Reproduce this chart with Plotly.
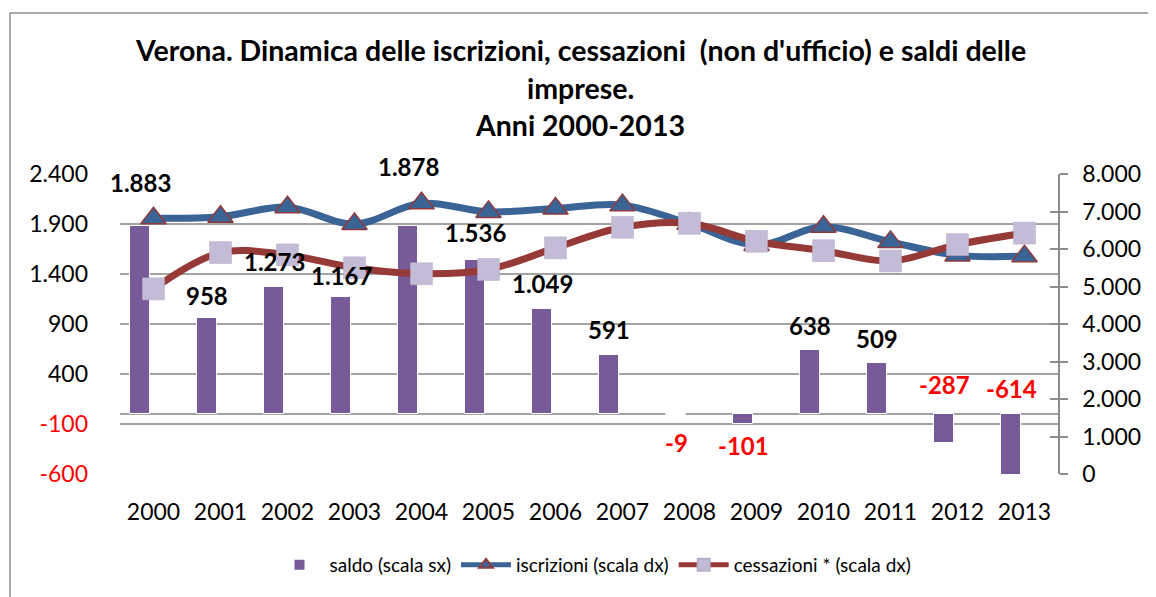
import plotly.graph_objects as go

# ---- data ----
years = ["2000", "2001", "2002", "2003", "2004", "2005", "2006",
         "2007", "2008", "2009", "2010", "2011", "2012", "2013"]
saldo = [1883, 958, 1273, 1167, 1878, 1536, 1049, 591, -9, -101, 638, 509, -287, -614]
iscrizioni = [6820, 6862, 7115, 6667, 7218, 6990, 7080, 7170, 6675, 6105, 6592, 6190, 5830, 5810]
cessazioni = [4937, 5904, 5842, 5500, 5340, 5454, 6031, 6579, 6684, 6206, 5954, 5681, 6117, 6424]
left_ticks = [-600, -100, 400, 900, 1400, 1900, 2400]
right_ticks = [0, 1000, 2000, 3000, 4000, 5000, 6000, 7000, 8000]

title_lines = ["Verona. Dinamica delle iscrizioni, cessazioni  (non d'ufficio) e saldi delle",
               "imprese.", "Anni 2000-2013"]

# ---- style ----
FONT = "Lato, 'Open Sans', sans-serif"
label_shift = [43, 23, 25, 22, 60, 28, 26, 25, -28, -21, 25, 25, 58, 87]
GRID = "#A3A3A3"
Y_RANGE = [-600, 2400]
PAGE_OFF = 8  # page body margin of the html output

# plot area in page pixels
PL, PR, PT, PB = 120, 1058, 174, 474
W, H = 1156, 597


def it(v):
    s = f"{abs(v):,}".replace(",", ".")
    return ("-" if v < 0 else "") + s


def tick_text(v):
    t = it(v)
    return f"<span style='color:#FF0000'>{t}</span>" if v < 0 else t


def px_x(p):
    return (p - PL) / (PR - PL)


def px_y(p):
    return (PB - p) / (PB - PT)


fig = go.Figure()

fig.add_trace(go.Bar(
    x=years, y=saldo, name="saldo (scala sx)", yaxis="y",
    width=0.3, offset=-0.35,
    marker=dict(color="#775B98", line=dict(color="#FFFFFF", width=1)),
    hoverinfo="skip",
))

fig.add_trace(go.Scatter(
    x=years, y=iscrizioni, name="iscrizioni (scala dx)", yaxis="y2",
    mode="lines+markers", line=dict(color="#3A6396", width=7, shape="spline", smoothing=1),
    marker=dict(symbol="triangle-up", size=22, color="#3A6396",
                line=dict(color="#8E3B3B", width=1.5)),
    hoverinfo="skip",
))

fig.add_trace(go.Scatter(
    x=years, y=cessazioni, name="cessazioni * (scala dx)", yaxis="y2",
    mode="lines+markers", line=dict(color="#963A38", width=7, shape="spline", smoothing=1),
    marker=dict(symbol="square", size=22, color="#C4BBD6",
                line=dict(color="#B8AECB", width=0.5)),
    hoverinfo="skip",
))

# helper trace for the inner half of the right-axis tick marks
fig.add_trace(go.Scatter(
    x=years, y=cessazioni, yaxis="y3", mode="lines", line=dict(width=0),
    showlegend=False, hoverinfo="skip", opacity=0,
))

annotations = []
for i, (v, sh) in enumerate(zip(saldo, label_shift)):
    annotations.append(dict(
        x=i, xref="x", y=(v - Y_RANGE[0]) / (Y_RANGE[1] - Y_RANGE[0]), yref="paper",
        xshift=-13.4, yshift=sh,
        text=f"<b>{it(v)}</b>", showarrow=False, yanchor="middle",
        font=dict(family=FONT, size=24, color="#FF0000" if v < 0 else "#000000"),
    ))

title_y = [50, 88, 125]
for line, py in zip(title_lines, title_y):
    annotations.append(dict(
        x=px_x(580), y=px_y(py), xref="paper", yref="paper",
        text=f"<b>{line}</b>", showarrow=False, xanchor="center", yanchor="middle",
        font=dict(family=FONT, size=28.5, color="#000000"),
    ))

fig.update_layout(
    width=W, height=H,
    margin=dict(l=PL - PAGE_OFF, r=W - PR + PAGE_OFF, t=PT - PAGE_OFF,
                b=H - PB + PAGE_OFF, autoexpand=False),
    paper_bgcolor="#FFFFFF", plot_bgcolor="#FFFFFF",
    font=dict(family=FONT, size=23, color="#000000"),
    showlegend=True,
    legend=dict(orientation="h", x=px_x(593), xanchor="center", y=px_y(565),
                yanchor="middle", font=dict(family=FONT, size=19), itemwidth=50,
                itemsizing="constant", traceorder="normal"),
    bargap=0,
    xaxis=dict(type="category", range=[-0.5, 13.5], autorange=False,
               showgrid=False, showline=False, ticks="",
               ticklabelstandoff=22, tickfont=dict(size=23)),
    yaxis=dict(range=Y_RANGE, autorange=False, tickvals=left_ticks,
               ticktext=[tick_text(v) for v in left_ticks],
               showgrid=True, gridcolor=GRID, gridwidth=1.5,
               zeroline=True, zerolinecolor=GRID, zerolinewidth=1.5,
               showline=False, ticks="", ticklabelstandoff=31, tickfont=dict(size=23)),
    yaxis2=dict(range=[0, 8000], autorange=False, overlaying="y", side="right",
                tickvals=right_ticks,
                ticktext=[it(v) for v in right_ticks], showgrid=False, zeroline=False,
                showline=True, linecolor="#8C8C8C", linewidth=1.5,
                ticks="outside", ticklen=8, tickcolor="#8C8C8C", tickwidth=1.5,
                ticklabelstandoff=10, tickfont=dict(size=23)),
    yaxis3=dict(range=[0, 8000], autorange=False, overlaying="y", side="right",
                tickvals=right_ticks,
                showticklabels=False, showgrid=False, zeroline=False, showline=False,
                ticks="inside", ticklen=8, tickcolor="#8C8C8C", tickwidth=1.5),
    annotations=annotations,
)

# outer chart border (top and left edges visible)
fig.add_shape(type="line", xref="paper", yref="paper",
              x0=px_x(10), x1=px_x(1170), y0=px_y(13), y1=px_y(13),
              line=dict(color="#8C8C8C", width=1.5))
fig.add_shape(type="line", xref="paper", yref="paper",
              x0=px_x(10), x1=px_x(10), y0=px_y(13), y1=px_y(610),
              line=dict(color="#8C8C8C", width=1.5))

fig.write_html("out.html")
